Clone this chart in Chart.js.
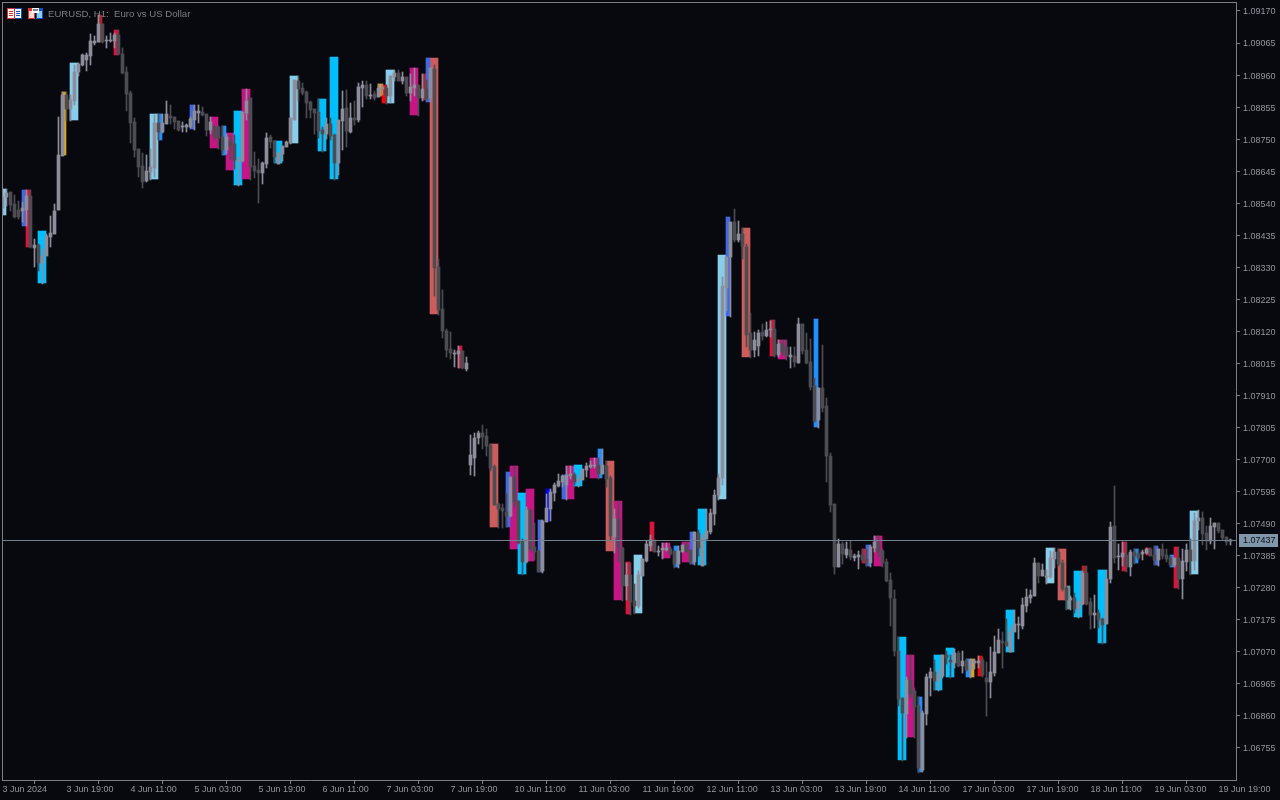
<!DOCTYPE html>
<html><head><meta charset="utf-8">
<style>html,body{margin:0;padding:0;background:#08090e;overflow:hidden}canvas{display:block}</style>
<script src="https://cdn.jsdelivr.net/npm/chart.js@4"></script>
</head><body><canvas id="c" width="1280" height="800"></canvas>
<script>
// all prices are in points (price x 100000), EURUSD H1
const open=[
108525,108560,108577,108538,108518,108515,108518,108564,108394,108404,
108344,108367,108429,108439,108518,108695,108895,108849,108875,108970,
108993,109009,109023,109065,109068,109127,109072,109072,109072,109091,
109029,108970,108901,108806,108717,108662,108613,108643,108655,108803,
108774,108800,108826,108823,108810,108790,108790,108790,108813,108836,
108839,108833,108780,108793,108790,108757,108714,108744,108734,108678,
108678,108836,108885,108662,108649,108639,108669,108757,108744,108669,
108701,108724,108737,108813,108941,108918,108905,108872,108849,108839,
108780,108767,108800,108764,108672,108810,108852,108774,108819,108813,
108918,108927,108891,108898,108888,108914,108918,108891,108954,108967,
108941,108954,108901,108918,108927,108885,108914,108885,108980,108331,
108193,108121,108062,108046,108046,108056,107997,107683,107706,107771,
107787,107777,107748,107676,107555,107542,107528,107515,107643,107565,
107433,107364,107535,107413,107401,107335,107495,107538,107591,107614,
107627,107617,107647,107650,107630,107633,107666,107676,107679,107683,
107653,107679,107640,107446,107505,107410,107285,107322,107236,107220,
107318,107368,107417,107436,107397,107404,107404,107407,107401,107358,
107397,107420,107404,107364,107459,107351,107439,107462,107522,107584,
107640,108262,108364,108478,108420,108439,108397,108115,108059,108072,
108118,108105,108125,108128,108043,108079,108069,108036,108039,108016,
108144,108059,108020,107941,107830,107935,107875,107712,107555,107348,
107423,107387,107404,107377,107381,107387,107374,107361,107410,107429,
107401,107364,107305,107243,107073,106919,106866,106978,106942,106892,
106683,106866,106984,107004,106975,106991,107060,107043,107033,107066,
107024,107040,107010,107033,107033,107043,106984,106971,107000,107066,
107105,107102,107069,107135,107158,107155,107220,107246,107253,107361,
107318,107315,107315,107374,107397,107361,107279,107240,107246,107210,
107227,107328,107233,107190,107197,107177,107161,107309,107482,107381,
107381,107387,107348,107397,107391,107391,107394,107407,107387,107371,
107407,107387,107377,107355,107377,107309,107364,107404,107368,107499,
107509,107459,107433,107479,107492,107469,107446,107433];
const high=[
108583,108586,108577,108567,108547,108544,108583,108583,108423,108407,
108390,108439,108498,108537,108823,108904,108904,108895,108993,108999,
109029,109032,109095,109088,109157,109127,109088,109098,109098,109108,
109049,108986,108908,108819,108717,108704,108698,108717,108829,108833,
108833,108875,108862,108823,108810,108806,108800,108823,108862,108862,
108855,108833,108823,108793,108793,108793,108767,108764,108764,108692,
108839,108914,108885,108708,108685,108675,108770,108764,108744,108704,
108727,108744,108819,108944,108957,108934,108908,108875,108849,108881,
108790,108819,108819,108767,108813,108908,108911,108868,108875,108934,
108941,108941,108931,108908,108931,108931,108927,108957,108977,108977,
108970,108954,108964,108983,108927,108964,108944,108983,108993,108358,
108256,108128,108118,108059,108072,108056,108036,107781,107787,107794,
107814,107801,107751,107683,107558,107555,107587,107643,107679,107565,
107439,107545,107538,107492,107401,107502,107587,107604,107623,107653,
107650,107679,107679,107656,107650,107669,107689,107696,107706,107706,
107735,107696,107647,107538,107565,107413,107361,107361,107292,107335,
107374,107433,107453,107436,107417,107426,107426,107413,107401,107417,
107420,107429,107404,107462,107469,107456,107538,107538,107600,107653,
108298,108364,108478,108521,108482,108459,108407,108180,108118,108125,
108144,108151,108154,108157,108092,108092,108092,108069,108069,108164,
108144,108115,108095,107967,107935,108075,107901,107721,107555,107439,
107429,107429,107433,107391,107401,107407,107407,107420,107449,107449,
107407,107374,107328,107272,107118,106919,106988,107060,106952,106922,
106876,106997,107017,107043,107014,107060,107073,107060,107079,107073,
107073,107046,107046,107046,107056,107053,107037,107086,107121,107145,
107135,107177,107151,107207,107184,107246,107276,107272,107377,107361,
107358,107338,107401,107410,107407,107371,107285,107253,107263,107236,
107335,107351,107246,107256,107207,107181,107338,107495,107614,107423,
107429,107429,107404,107407,107407,107404,107410,107410,107417,107407,
107423,107407,107384,107377,107413,107407,107423,107439,107525,107535,
107528,107482,107509,107492,107492,107469,107446,107439];
const low=[
108505,108531,108515,108492,108488,108478,108465,108394,108331,108318,
108275,108367,108397,108439,108518,108695,108810,108810,108862,108957,
108990,108973,108993,109059,109068,109065,109049,109068,109049,109026,
108964,108842,108737,108692,108626,108590,108610,108616,108626,108747,
108770,108800,108800,108783,108777,108774,108774,108787,108780,108803,
108826,108760,108767,108747,108717,108701,108701,108682,108652,108596,
108675,108813,108616,108623,108541,108603,108655,108721,108672,108669,
108678,108724,108734,108813,108875,108895,108819,108819,108767,108754,
108708,108750,108747,108616,108633,108714,108724,108770,108796,108806,
108855,108881,108881,108878,108888,108895,108865,108868,108941,108941,
108931,108891,108875,108891,108826,108875,108878,108872,108236,108174,
108098,108036,108030,108003,108000,107997,107990,107650,107647,107751,
107735,107712,107663,107552,107476,107476,107479,107512,107545,107423,
107322,107361,107401,107371,107331,107328,107495,107499,107565,107610,
107610,107568,107637,107617,107610,107633,107643,107673,107673,107637,
107653,107610,107433,107394,107364,107236,107240,107190,107194,107214,
107318,107364,107401,107397,107384,107374,107401,107387,107345,107345,
107397,107397,107358,107355,107384,107351,107439,107456,107486,107568,
107617,108187,108167,108413,108413,108357,108069,108033,108036,108039,
108092,108102,108102,108036,108036,108043,108026,108000,108003,108016,
108046,108013,107928,107823,107804,107856,107627,107528,107325,107348,
107358,107377,107371,107368,107341,107364,107351,107348,107397,107381,
107348,107299,107155,107056,106892,106712,106788,106919,106788,106673,
106676,106830,106925,106945,106942,106984,107030,106984,107017,107020,
107000,107007,106984,107014,107017,106988,106860,106919,106991,107066,
107017,107089,107069,107135,107112,107145,107200,107230,107253,107295,
107318,107292,107312,107345,107351,107269,107207,107207,107197,107181,
107223,107223,107145,107148,107148,107096,107161,107295,107361,107338,
107351,107331,107318,107358,107371,107371,107391,107384,107355,107351,
107374,107364,107351,107348,107276,107243,107335,107322,107338,107469,
107420,107404,107423,107407,107459,107436,107420,107420];
const close=[
108560,108573,108534,108495,108495,108525,108564,108397,108404,108344,
108367,108433,108442,108515,108698,108895,108849,108878,108970,108996,
109026,109026,109072,109072,109127,109068,109075,109075,109091,109029,
108967,108898,108803,108714,108659,108610,108646,108659,108803,108774,
108803,108833,108819,108806,108780,108793,108796,108816,108842,108842,
108829,108780,108806,108757,108754,108714,108757,108727,108682,108682,
108839,108875,108659,108646,108639,108672,108754,108741,108692,108704,
108727,108741,108819,108944,108914,108901,108868,108846,108836,108777,
108767,108800,108760,108672,108813,108849,108777,108819,108813,108921,
108927,108891,108895,108885,108918,108921,108891,108957,108967,108941,
108954,108901,108921,108927,108885,108914,108885,108983,108328,108190,
108121,108059,108049,108049,108056,108000,108016,107716,107771,107787,
107774,107745,107673,107552,107538,107532,107515,107643,107561,107426,
107364,107535,107407,107397,107331,107499,107542,107594,107617,107630,
107647,107650,107653,107627,107637,107669,107679,107683,107683,107653,
107683,107637,107449,107505,107413,107285,107322,107233,107220,107322,
107374,107423,107436,107397,107401,107410,107410,107391,107358,107401,
107420,107397,107364,107462,107410,107443,107466,107525,107584,107640,
108269,108364,108478,108420,108439,108400,108108,108059,108092,108115,
108105,108125,108128,108043,108079,108053,108039,108043,108020,108144,
108056,108016,107938,107826,107935,107869,107712,107552,107348,107423,
107391,107407,107381,107384,107387,107371,107361,107413,107429,107397,
107361,107302,107246,107073,106915,106869,106978,106932,106889,106689,
106869,106988,107004,106975,106994,107060,107050,107037,107066,107024,
107040,107010,107043,107040,107040,106994,106971,107004,107069,107109,
107099,107089,107135,107161,107161,107223,107250,107256,107361,107318,
107338,107318,107377,107397,107358,107276,107240,107246,107210,107233,
107328,107227,107190,107197,107174,107158,107309,107479,107377,107384,
107394,107348,107397,107384,107377,107397,107407,107384,107371,107407,
107384,107374,107355,107377,107309,107368,107404,107368,107499,107509,
107456,107433,107482,107492,107466,107443,107430,107436];

// zone rectangles: first bar, bars covered, upper price, lower price, colour name
const boxStart=[0,5,6,9,15,17,24,28,37,39,47,52,55,56,58,60,68,72,79,82,94,95,96,102,105,106,107,114,122,126,127,129,131,134,136,140,141,143,147,149,151,153,156,158,162,165,168,170,172,174,179,181,185,192,194,203,215,216,218,224,226,229,233,236,241,242,244,251,261,264,266,268,270,274,280,283,286,288,292,293,297];
const boxSpan=[1,1,1,2,1,2,1,1,2,1,1,2,1,2,2,2,2,2,2,2,1,1,2,2,1,1,2,1,2,1,2,2,2,1,1,1,2,2,2,1,2,2,1,2,1,2,1,2,1,2,2,1,2,1,2,1,1,1,2,2,2,1,2,2,1,1,1,2,2,2,1,2,1,2,1,1,1,1,1,1,2];
const boxHigh=[108586,108583,108583,108449,108904,108999,109157,109108,108833,108833,108862,108823,108793,108770,108842,108914,108744,108957,108881,109019,108931,108927,108977,108983,108964,109016,109016,108072,107751,107660,107679,107591,107604,107502,107604,107650,107679,107683,107706,107735,107696,107565,107364,107387,107495,107426,107417,107429,107462,107538,108370,108495,108459,108157,108092,108161,107407,107420,107449,107118,107060,106922,107060,107082,107046,107046,107056,107207,107410,107407,107285,107335,107351,107338,107429,107407,107410,107417,107387,107413,107532];
const boxLow=[108502,108465,108397,108278,108698,108813,109068,109026,108619,108747,108783,108721,108698,108649,108600,108619,108672,108737,108711,108619,108891,108868,108868,108829,108878,108872,108177,108000,107479,107479,107407,107325,107368,107331,107499,107571,107571,107614,107640,107640,107401,107240,107194,107197,107401,107377,107348,107364,107358,107355,107571,108170,108036,108039,108030,107807,107361,107351,107351,106716,106791,106676,106945,106988,106988,106988,106991,107069,107295,107240,107210,107184,107227,107099,107335,107361,107387,107355,107348,107279,107325];
const boxTone=['LS','RB','CR','DS','GR','LS','FB','CR','LS','DB','RB','MV','DB','MV','DS','MV','DS','LS','DS','DS','OR','RD','LS','MV','FB','RB','IR','CR','IR','RB','MV','DS','MV','RB','BL','RB','MV','DS','MV','DB','IR','MV','CR','LS','CR','MV','DB','MV','RB','DS','LS','RB','IR','CR','MV','DB','CR','RB','MV','DS','MV','DB','DS','DS','DB','GR','RD','DS','LS','IR','CB','DS','FB','DS','CR','DB','CR','RB','DB','CR','LS'];
const tones={LS:'#87ceeb',DS:'#00bfff',RB:'#4169e1',CR:'#dc143c',GR:'#daa520',OR:'#e8a010',FB:'#b22222',DB:'#1e90ff',MV:'#c71585',IR:'#cd5c5c',RD:'#ff0000',BL:'#0000ff',CB:'#5f9ea0'};

const priceTicks=[109170,109065,108960,108855,108750,108645,108540,108435,108330,108225,108120,108015,107910,107805,107700,107595,107490,107385,107280,107175,107070,106965,106860,106755];
const timeTicks=[0,16,32,48,64,80,96,112,128,144,160,176,192,208,224,240,256,272,288,304];
const timeLabels=['3 Jun 2024','3 Jun 19:00','4 Jun 11:00','5 Jun 03:00','5 Jun 19:00','6 Jun 11:00','7 Jun 03:00','7 Jun 19:00','10 Jun 11:00','11 Jun 03:00','11 Jun 19:00','12 Jun 11:00','13 Jun 03:00','13 Jun 19:00','14 Jun 11:00','17 Jun 03:00','17 Jun 19:00','18 Jun 11:00','19 Jun 03:00','19 Jun 19:00'];
const lastPrice=107437;
const titleText='EURUSD, H1:  Euro vs US Dollar';

const UP='#8d8d9b',DOWN='#4c4c52',AXIS='#7d7d87',LABEL='#94949e',BG='#08090e',LINE='#71808f';
const fontUI='"Liberation Sans"';

const idx=open.map((_,i)=>i);
const bodyData=idx.map(i=>({x:i,y:[open[i],close[i]]}));
const wickData=idx.map(i=>({x:i,y:[low[i],high[i]]}));
const candleColors=idx.map(i=>close[i]>=open[i]?UP:DOWN);
function boxes(span){
  const sel=boxStart.map((_,i)=>i).filter(i=>boxSpan[i]===span);
  return {
    data:sel.map(i=>({x:boxStart[i]+span/2-0.125,y:[boxLow[i],boxHigh[i]]})),
    backgroundColor:sel.map(i=>tones[boxTone[i]])
  };
}
const wide=boxes(2),narrow=boxes(1);

const decor={
  id:'decor',
  beforeDraw(ch){const g=ch.ctx;g.save();g.fillStyle=BG;g.fillRect(0,0,ch.width,ch.height);g.restore();},
  beforeDatasetsDraw(ch){
    // keep bar edges on whole pixels, like the terminal's own drawing
    ch.getSortedVisibleDatasetMetas().forEach(m=>m.data.forEach(el=>{
      const a=Math.round(el.y),b=Math.round(el.base);
      el.y=a;el.base=(a===b)?a+1:b;
    }));
  },
  afterDatasetsDraw(ch){
    const g=ch.ctx,a=ch.chartArea,yS=ch.scales.y;
    g.save();
    const py=Math.round(yS.getPixelForValue(lastPrice));
    g.fillStyle=LINE;g.fillRect(a.left,py,a.right-a.left,1);
    g.fillStyle=AXIS;
    g.fillRect(2,2,1235,1);g.fillRect(2,2,1,779);
    g.restore();
  },
  afterDraw(ch){
    const g=ch.ctx,yS=ch.scales.y;
    g.save();
    const py=Math.round(yS.getPixelForValue(lastPrice));
    g.fillStyle='#7f96ab';g.fillRect(1239,py-6,39,13);
    g.fillStyle='#0b0d12';g.font='9px '+fontUI;g.textBaseline='middle';g.textAlign='left';
    g.fillText((lastPrice/1e5).toFixed(5),1243,py+1);
    // window icons
    const r=(c,x,y,w,h)=>{g.fillStyle=c;g.fillRect(x,y,w,h);};
    r('#e03030',7,8,8,11);r('#1050c0',15,8,7,11);
    r('#ffffff',8,9,6,9);r('#ffffff',15,9,6,9);
    r('#e03030',9,11,4,1);r('#e03030',9,13,4,1);r('#e03030',9,15,4,1);
    r('#1050c0',16,11,4,1);r('#1050c0',16,13,4,1);r('#1050c0',16,15,4,1);
    r('#e03030',28,8,7,11);r('#1050c0',36,8,7,11);
    r('#ffd8d0',29,11,5,7);r('#87ceeb',37,11,5,7);
    r('#ffffff',32,8,7,5);r('#808088',33,9,5,2);
    g.fillStyle='#7c7c86';g.font='9.6px '+fontUI;g.textBaseline='middle';g.textAlign='left';
    g.fillText(titleText,48,14);
    g.restore();
  }
};

new Chart(document.getElementById('c'),{
  type:'bar',
  data:{datasets:[
    {data:bodyData,backgroundColor:candleColors,barThickness:3,grouped:false,order:0},
    {data:wickData,backgroundColor:candleColors,barThickness:1,grouped:false,order:1},
    {data:narrow.data,backgroundColor:narrow.backgroundColor,barThickness:4,grouped:false,order:2},
    {data:wide.data,backgroundColor:wide.backgroundColor,barThickness:8,grouped:false,order:3}
  ]},
  options:{
    responsive:false,animation:false,
    layout:{padding:{left:2,top:2,right:0,bottom:0}},
    plugins:{legend:{display:false},tooltip:{enabled:false},title:{display:false}},
    scales:{
      x:{type:'linear',min:-0.125,max:308.375,offset:false,
        afterBuildTicks(s){s.ticks=timeTicks.map(v=>({value:v}));},
        afterFit(s){s.height=20;s.paddingLeft=0;s.paddingRight=0;s.paddingTop=0;s.paddingBottom=0;},
        grid:{drawOnChartArea:false,drawTicks:true,tickLength:4,tickColor:AXIS},
        border:{display:true,color:AXIS},
        ticks:{autoSkip:false,maxRotation:0,minRotation:0,align:'start',padding:0,color:LABEL,font:{family:fontUI,size:9},
          callback(v){const j=timeTicks.indexOf(v);return j<0?'':timeLabels[j];}}
      },
      y:{type:'linear',position:'right',min:106650,max:109199.4,
        afterBuildTicks(s){s.ticks=priceTicks.map(v=>({value:v}));},
        afterFit(s){s.width=44;s.paddingLeft=0;s.paddingRight=0;s.paddingTop=0;s.paddingBottom=0;},
        grid:{drawOnChartArea:false,drawTicks:true,tickLength:4,tickColor:AXIS},
        border:{display:true,color:AXIS},
        ticks:{autoSkip:false,padding:3,crossAlign:'near',labelOffset:1,color:LABEL,font:{family:fontUI,size:9},
          callback(v){return (v/1e5).toFixed(5);}}
      }
    }
  },
  plugins:[decor]
});
</script></body></html>
